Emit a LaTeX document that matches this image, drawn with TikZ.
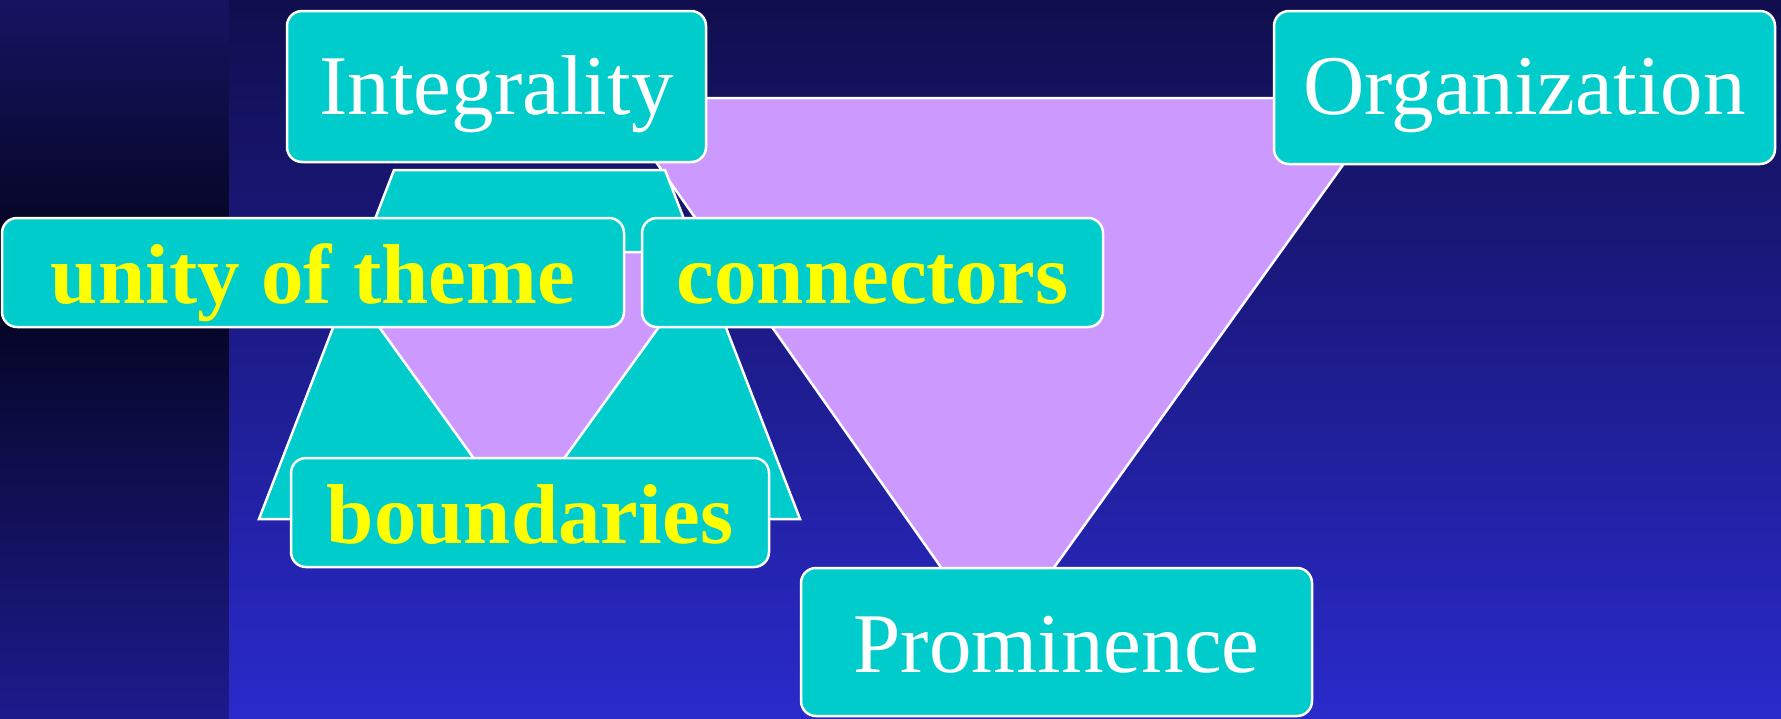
\documentclass[tikz,border=0pt]{standalone}
\usepackage{fontspec}
\setmainfont{Liberation Serif}
\definecolor{cyanbox}{HTML}{00CCCC}
\definecolor{lilac}{HTML}{CC99FF}
\definecolor{bgtop}{HTML}{110E4E}
\definecolor{bgbot}{HTML}{2A2ACB}
\definecolor{striptop}{HTML}{161462}
\definecolor{stripmid}{HTML}{03031A}
\definecolor{stripbot}{HTML}{1D1B8C}
\definecolor{ytext}{HTML}{FFFF00}
\begin{document}
\begin{tikzpicture}[x=1pt,y=-1pt,
  boxbase/.style={draw=white, line width=2.5pt, fill=cyanbox, rounded corners=15pt,
    inner sep=0pt, outer sep=0pt, anchor=north west, align=center},
  plainbox/.style={boxbase, text=white, font=\fontsize{85}{85}\selectfont},
  boldbox/.style={boxbase, text=ytext, font=\fontsize{85}{85}\selectfont\bfseries},
  shapeline/.style={draw=white, line width=2.5pt, line join=miter}]
\useasboundingbox (0,0) rectangle (1781,718);
% background
\shade[top color=bgtop, bottom color=bgbot] (228,0) rectangle (1781,718);
\shade[top color=striptop, bottom color=stripmid] (0,0) rectangle (228.5,270.5);
\shade[top color=stripmid, bottom color=stripbot] (0,270) rectangle (228.5,718);
% shapes
\filldraw[shapeline, fill=lilac] (611,98) -- (1391,98) -- (997,647) -- cycle;
\filldraw[shapeline, fill=cyanbox] (394,170) -- (665,170) -- (800,519) -- (259,519) -- cycle;
\filldraw[shapeline, fill=lilac] (325,252) -- (713,252) -- (519,521) -- cycle;
% boxes
\node[plainbox, minimum width=419pt, text height=103pt, text depth=48pt] (integ) at (287,11) {Integrality};
\node[plainbox, minimum width=501pt, text height=103.5pt, text depth=49.5pt] (organ) at (1274,11) {Organization};
\node[boldbox, minimum width=622pt, text height=85pt, text depth=24pt] (unity) at (2,218) {unity of theme};
\node[boldbox, minimum width=461pt, text height=85pt, text depth=24pt] (conn) at (642,218) {connectors};
\node[boldbox, minimum width=478pt, text height=85pt, text depth=24pt] (bound) at (291,458) {boundaries};
\node[plainbox, minimum width=511pt, text height=104pt, text depth=44pt] (promi) at (801,568) {Prominence};
\end{tikzpicture}
\end{document}
